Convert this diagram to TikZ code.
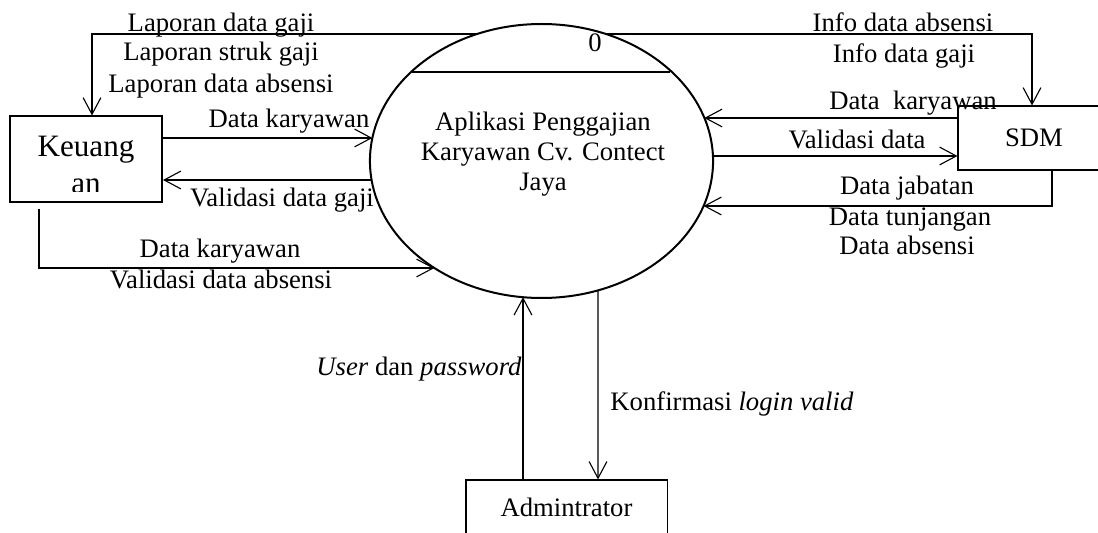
\documentclass[tikz,border=0pt]{standalone}
\usepackage{fontspec}
\setmainfont{Liberation Serif}
\usetikzlibrary{arrows.meta,shapes.geometric,calc}
\begin{document}
\begin{tikzpicture}[x=0.45pt,y=-0.45pt,
  font=\fontsize{12}{13.5}\selectfont,
  alur/.style={line width=0.5pt,-{Straight Barb[length=7.5pt,width=8pt]}},
  garis/.style={line width=0.5pt},
  label/.style={inner sep=0pt,anchor=base},
  kotak/.style={draw,line width=0.5pt,inner sep=0pt}]
\useasboundingbox (0,0) rectangle (1098,533);
% proses utama
\node (proses) [ellipse,draw,line width=0.9pt,inner sep=0pt,
  minimum width=154.4pt,minimum height=123.3pt] at (541.5,161) {};
\draw [garis] (412,72) -- (670,72);
\node (nomor) [label] at (595,52) {0};
\node (judul) [align=center,inner sep=0pt] at (543,154)
  {Aplikasi Penggajian\\Karyawan Cv. Contect\\Jaya};
% entitas
\node (keuangan) [kotak,line width=0.9pt,minimum width=68.4pt,minimum height=38.3pt] at (86,159) {};
\begin{scope}
\clip (11,117) rectangle (161,192);
\node (keu1) [label,font=\fontsize{14}{17}\selectfont] at (86,157) {Keuang};
\node (keu2) [label,font=\fontsize{14}{17}\selectfont] at (86,194) {an};
\end{scope}
\node (sdm) [kotak,minimum width=68.4pt,minimum height=28.8pt] at (1034,138) {SDM};
\node (admin) [kotak,minimum width=90.5pt,minimum height=24.8pt] at (566.5,507.5) {Admintrator};
% titik pada proses
\coordinate (p1) at (477.2,34);
\coordinate (p2) at (372.4,138);
\coordinate (p3) at (371.6,180);
\coordinate (p4) at (434.4,268);
\coordinate (p5) at (605.8,34);
\coordinate (p6) at (704.3,118);
\coordinate (p7) at (712.9,156);
\coordinate (p8) at (703.5,206);
\coordinate (p9) at (523,297.2);
\coordinate (p10) at (598,290.3);
% alur data
\draw [alur] (p1) -| ($(keuangan.north)+(6,0)$);
\draw [alur] ($(keuangan.east)+(0,-21)$) -- (p2);
\draw [alur] (p3) -- ($(keuangan.east)+(0,21)$);
\draw [alur] ($(keuangan.south)+(-47,6)$) |- (p4);
\draw [alur] (p5) -| ($(sdm.north)+(-2,0)$);
\draw [alur] ($(sdm.west)+(0,-20)$) -- (p6);
\draw [alur] (p7) -- ($(sdm.west)+(0,18)$);
\draw [alur] ($(sdm.south)+(18,0)$) |- (p8);
\draw [alur] ($(admin.north)+(-43.5,0)$) -- (p9);
\draw [alur] (p10) -- ($(admin.north)+(31.5,0)$);
% label
\node (lapgaji) [label] at (221,32) {Laporan data gaji};
\node (lapstruk) [label] at (221,61) {Laporan struk gaji};
\node (lapabsen) [label] at (221,93) {Laporan data absensi};
\node (datakar1) [label] at (289,128) {Data karyawan};
\node (valgaji) [label] at (282,207) {Validasi data gaji};
\node (datakar2) [label] at (220,258) {Data karyawan};
\node (valabsen) [label] at (221,288) {Validasi data absensi};
\node (infoabsen) [label] at (903,32) {Info data absensi};
\node (infogaji) [label] at (904,63) {Info data gaji};
\node (datakar3) [label] at (913,110) {Data\ \ karyawan};
\node (valdata) [label] at (857,149) {Validasi data};
\node (jabatan) [label] at (907,195) {Data jabatan};
\node (tunjangan) [label] at (910,226) {Data tunjangan};
\node (absensi) [label] at (907,255) {Data absensi};
\node (userpass) [label,anchor=base east] at (522,375) {\textit{User} dan \textit{password}};
\node (konfirm) [label,anchor=base west] at (610,410) {Konfirmasi \textit{login valid}};
\end{tikzpicture}
\end{document}
